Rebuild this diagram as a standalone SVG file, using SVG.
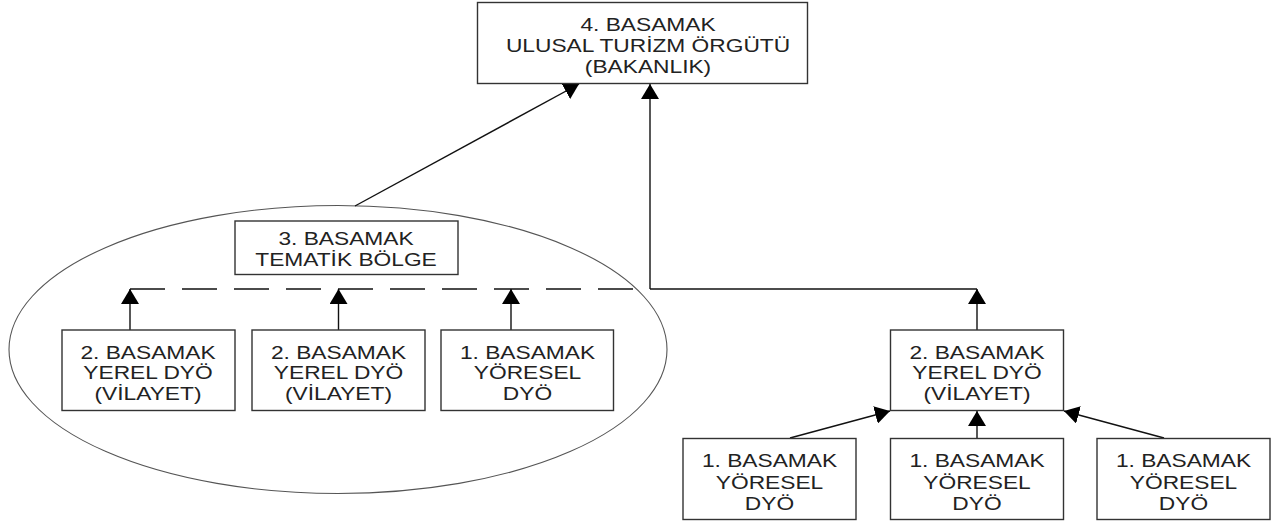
<svg xmlns="http://www.w3.org/2000/svg" width="1287" height="525" viewBox="0 0 1287 525">
  <defs>
    <marker id="ah" viewBox="0 0 15 18" refX="15" refY="9" markerWidth="15" markerHeight="18" markerUnits="userSpaceOnUse" orient="auto">
      <path d="M0,0 L15,9 L0,18 Z" fill="#000"/>
    </marker>
    <style>
      .box { fill: #fff; stroke: #333; stroke-width: 1.4; }
      .lbl { font-family: "Liberation Sans", Arial, sans-serif; font-size: 18.5px; fill: #222; text-anchor: middle; }
      .con { fill: none; stroke: #111; stroke-width: 1.4; }
      .arr { marker-end: url(#ah); }
      .dash { stroke-dasharray: 35 17; }
      .ell { fill: none; stroke: #555; stroke-width: 1.1; }
    </style>
  </defs>
  <rect width="1287" height="525" fill="#fff"/>

  <ellipse id="tematik-bolge-alani" class="ell" cx="338" cy="349.5" rx="329" ry="144"/>

  <g id="connectors">
    <line class="con arr" x1="355" y1="206" x2="579" y2="84"/>
    <line class="con dash" x1="130" y1="289" x2="650" y2="289"/>
    <line class="con" x1="650" y1="289" x2="977" y2="289"/>
    <line class="con arr" x1="650" y1="289" x2="650" y2="84"/>
    <line class="con arr" x1="977" y1="330" x2="977" y2="289"/>
    <line class="con arr" x1="130" y1="330" x2="130" y2="289"/>
    <line class="con arr" x1="338.5" y1="330" x2="338.5" y2="289"/>
    <line class="con arr" x1="511" y1="330" x2="511" y2="289"/>
    <line class="con arr" x1="790" y1="438" x2="890" y2="411"/>
    <line class="con arr" x1="977" y1="438" x2="977" y2="411"/>
    <line class="con arr" x1="1164" y1="438" x2="1064" y2="411"/>
  </g>

  <g id="n-ulusal">
    <rect class="box" x="477.5" y="2.5" width="330" height="81"/>
    <g class="lbl" transform="translate(648,0) scale(1.23,1)">
      <text x="0" y="31.5">4. BASAMAK</text>
      <text x="0" y="52.5">ULUSAL TURİZM ÖRGÜTÜ</text>
      <text x="0" y="73">(BAKANLIK)</text>
    </g>
  </g>

  <g id="n-tematik">
    <rect class="box" x="235" y="221" width="223" height="53.5"/>
    <g class="lbl" transform="translate(346,0) scale(1.23,1)">
      <text x="0" y="245.5">3. BASAMAK</text>
      <text x="0" y="266">TEMATİK BÖLGE</text>
    </g>
  </g>

  <g id="n-yerel-a">
    <rect class="box" x="62" y="330" width="173" height="80.5"/>
    <g class="lbl" transform="translate(148,0) scale(1.23,1)">
      <text x="0" y="359">2. BASAMAK</text>
      <text x="0" y="379.5">YEREL DYÖ</text>
      <text x="0" y="400">(VİLAYET)</text>
    </g>
  </g>

  <g id="n-yerel-b">
    <rect class="box" x="252" y="330" width="173" height="80.5"/>
    <g class="lbl" transform="translate(338.5,0) scale(1.23,1)">
      <text x="0" y="359">2. BASAMAK</text>
      <text x="0" y="379.5">YEREL DYÖ</text>
      <text x="0" y="400">(VİLAYET)</text>
    </g>
  </g>

  <g id="n-yoresel-a">
    <rect class="box" x="441" y="330" width="172.5" height="80.5"/>
    <g class="lbl" transform="translate(527.5,0) scale(1.23,1)">
      <text x="0" y="359">1. BASAMAK</text>
      <text x="0" y="379.5">YÖRESEL</text>
      <text x="0" y="400">DYÖ</text>
    </g>
  </g>

  <g id="n-yerel-c">
    <rect class="box" x="890.5" y="330" width="173" height="80.5"/>
    <g class="lbl" transform="translate(977,0) scale(1.23,1)">
      <text x="0" y="359">2. BASAMAK</text>
      <text x="0" y="379.5">YEREL DYÖ</text>
      <text x="0" y="400">(VİLAYET)</text>
    </g>
  </g>

  <g id="n-yoresel-b">
    <rect class="box" x="683" y="438.5" width="173" height="81"/>
    <g class="lbl" transform="translate(769.5,0) scale(1.23,1)">
      <text x="0" y="467.5">1. BASAMAK</text>
      <text x="0" y="489">YÖRESEL</text>
      <text x="0" y="510">DYÖ</text>
    </g>
  </g>

  <g id="n-yoresel-c">
    <rect class="box" x="890.5" y="438.5" width="173" height="81"/>
    <g class="lbl" transform="translate(977,0) scale(1.23,1)">
      <text x="0" y="467.5">1. BASAMAK</text>
      <text x="0" y="489">YÖRESEL</text>
      <text x="0" y="510">DYÖ</text>
    </g>
  </g>

  <g id="n-yoresel-d">
    <rect class="box" x="1097" y="438.5" width="173" height="81"/>
    <g class="lbl" transform="translate(1183.5,0) scale(1.23,1)">
      <text x="0" y="467.5">1. BASAMAK</text>
      <text x="0" y="489">YÖRESEL</text>
      <text x="0" y="510">DYÖ</text>
    </g>
  </g>
</svg>
